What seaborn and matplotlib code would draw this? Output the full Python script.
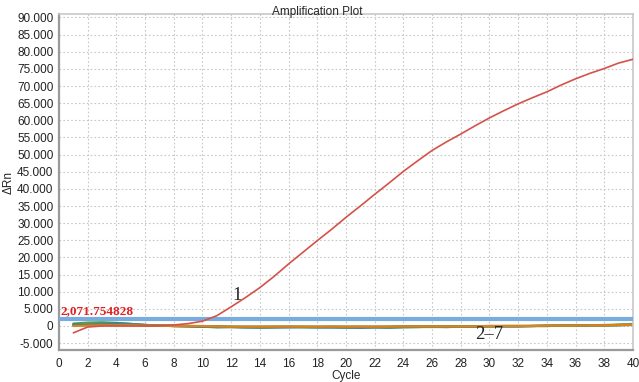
import numpy as np
import pandas as pd
import matplotlib
matplotlib.use("Agg")
import matplotlib.pyplot as plt
import matplotlib.ticker as mticker
import seaborn as sns

# Cycle numbers
cycles = list(range(1, 41))

# Sample 1 (positive amplification)
sample_1 = [-2000, -300, 0, 0, 0, 0, 100, 300, 700, 1400,
            3000, 5600, 8300, 11200, 14500, 18100, 21500, 24900, 28200, 31700,
            35000, 38400, 41700, 45100, 48200, 51200, 53700, 56000, 58400, 60700,
            62800, 64800, 66600, 68300, 70300, 72100, 73700, 75100, 76700, 77800]

# Samples 2-7 (negative, flat near baseline)
sample_2 = [700, 1000, 1100, 900, 600, 300, 100, 0, -100, -200,
            -400, -300, -400, -500, -400, -300, -400, -400, -400, -500,
            -400, -400, -500, -400, -300, -300, -300, -200, -200, -100,
            -100, -100, 0, 0, 100, 200, 200, 300, 400, 600]
sample_3 = [400, 700, 800, 700, 500, 300, 200, 100, 0, -100,
            -200, -200, -300, -300, -200, -300, -200, -300, -300, -300,
            -200, -300, -200, -200, -300, -200, -200, -100, -200, -100,
            -100, 0, 0, 100, 100, 200, 200, 100, 300, 400]
sample_4 = [500, 700, 800, 800, 600, 300, 100, 0, -100, -200,
            -300, -300, -400, -400, -400, -400, -300, -400, -400, -400,
            -500, -400, -400, -300, -300, -200, -300, -200, -200, -100,
            -100, -100, 0, 0, 100, 100, 200, 200, 300, 400]
sample_5 = [300, 600, 700, 600, 400, 300, 100, 0, 0, -100,
            -200, -300, -300, -300, -300, -200, -300, -300, -200, -300,
            -300, -300, -300, -200, -200, -200, -200, -200, -100, -100,
            0, 0, 0, 100, 100, 100, 200, 200, 300, 400]
sample_6 = [200, 400, 500, 500, 400, 200, 100, 0, 0, -100,
            -100, -200, -200, -200, -200, -200, -200, -200, -200, -200,
            -200, -200, -200, -100, -100, -100, -100, -100, -100, 0,
            0, 0, 0, 100, 100, 100, 200, 200, 200, 300]
sample_7 = [0, 100, 200, 200, 200, 100, 100, 0, 0, 0,
            -100, -200, -200, -200, -200, -200, -200, -200, -200, -200,
            -200, -200, -200, -100, -100, -100, -100, -100, -100, 0,
            0, 0, 0, 100, 100, 100, 200, 200, 300, 300]

threshold = 2071.754828
threshold_label = "2,071.754828"

baseline_samples = {"2": sample_2, "3": sample_3, "4": sample_4,
                    "5": sample_5, "6": sample_6, "7": sample_7}
baseline_colors = {"2": "#3fae3f", "3": "#e6d62a", "4": "#3563b8",
                   "5": "#8fa22c", "6": "#2f8a78", "7": "#e0801e"}

sns.set_style("white")
plt.rcParams["font.family"] = ["Liberation Sans", "DejaVu Sans"]
serif = ["Liberation Serif", "DejaVu Serif"]

fig = plt.figure(figsize=(6.39, 3.82), dpi=100)
ax = fig.add_axes([0.0923, 0.0838, 0.8983, 0.8795])

# baseline samples
rows = []
for name, vals in baseline_samples.items():
    for c, v in zip(cycles, vals):
        rows.append({"Cycle": c, "dRn": v, "sample": name})
df_base = pd.DataFrame(rows)
sns.lineplot(data=df_base, x="Cycle", y="dRn", hue="sample",
             palette=baseline_colors, linewidth=1.6, legend=False, ax=ax)

# threshold line
ax.axhline(threshold, color="#78acdf", linewidth=3, zorder=3)

# positive sample
df_pos = pd.DataFrame({"Cycle": cycles, "dRn": sample_1})
sns.lineplot(data=df_pos, x="Cycle", y="dRn", color="#d4524a",
             linewidth=1.2, ax=ax, zorder=4)

ax.set_xlim(0, 40)
ax.set_ylim(-7000, 91000)
ax.set_xticks(range(0, 41, 2))
ax.set_yticks(range(-5000, 90001, 5000))
ax.yaxis.set_major_formatter(mticker.FuncFormatter(
    lambda v, p: f"{int(round(v)):,}".replace(",", ".")))
ax.tick_params(labelsize=8.5, colors="#222222", length=2, pad=2)
ax.tick_params(axis="x", pad=4)

ax.grid(True, linestyle=(0, (1.5, 2)), color="#c8c8c8", linewidth=0.8)
for s in ["left", "bottom"]:
    ax.spines[s].set_color("#9a9a9a")
    ax.spines[s].set_linewidth(1.6)
for s in ["top", "right"]:
    ax.spines[s].set_color("#c8c8c8")
    ax.spines[s].set_linewidth(1.2)

ax.set_xlabel("Cycle", fontsize=8.5, labelpad=0)
ax.set_ylabel("ΔRn", fontsize=8.5, labelpad=2)
fig.text(0.497, 0.985, "Amplification Plot", ha="center", va="top", fontsize=8.5)

ax.text(0.1, threshold + 400, threshold_label, color="#e02020",
        fontsize=9.5, fontweight="bold", family=serif,
        ha="left", va="bottom")
ax.text(12.4, 9000, "1", fontsize=13.5, family=serif,
        ha="center", va="center")
ax.text(30.0, -2400, "2–7", fontsize=13.5, family=serif,
        ha="center", va="center")

fig.savefig("out.png", dpi=100)
